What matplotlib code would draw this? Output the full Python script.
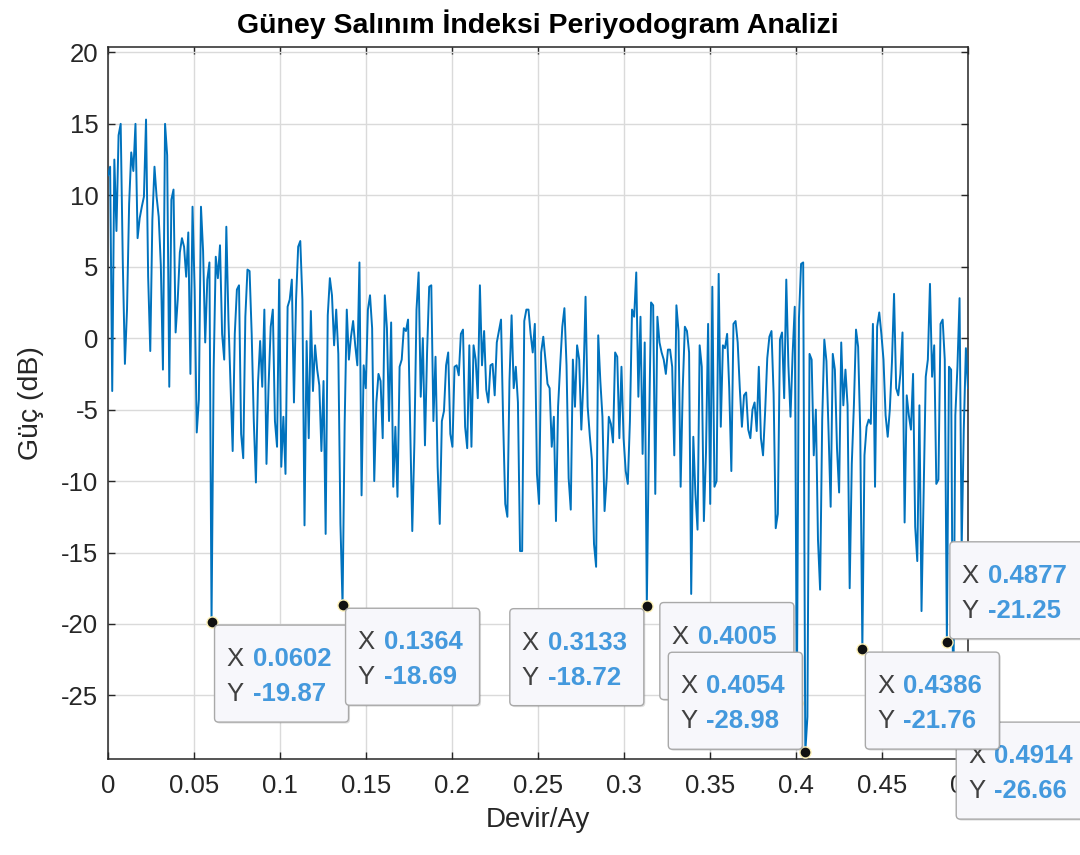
import numpy as np
import matplotlib
matplotlib.use('Agg')
import matplotlib.pyplot as plt
from matplotlib.patches import FancyBboxPatch
from matplotlib.transforms import IdentityTransform

plt.rcParams['font.family'] = ['Liberation Sans', 'DejaVu Sans']
plt.rcParams['axes.unicode_minus'] = False

# Periodogram of the monthly SOI series (814 months), power in dB
n_months = 814
power_db = [
    11.4, 12.0, -3.7, 12.5, 7.5, 14.2, 15.0, 5.3, -1.8, 2.0,
    9.4, 13.0, 11.7, 15.0, 7.0, 8.4, 9.2, 9.9, 15.3, 4.3,
    -0.9, 8.3, 12.0, 9.9, 8.5, 5.1, -2.2, 15.0, 12.8, -3.4,
    9.7, 10.4, 0.4, 2.7, 6.0, 7.0, 6.4, 4.3, 7.4, -2.5,
    9.2, 3.4, -6.6, -4.3, 9.2, 6.1, -0.3, 4.1, 5.3, -19.87,
    -2.2, 5.7, 4.2, 6.5, 0.3, -1.5, 7.8, 1.3, -3.4, -7.9,
    0.3, 3.4, 3.7, -6.7, -8.4, 1.5, 4.8, 4.7, 0.3, -5.8,
    -10.1, -3.1, -0.2, -3.4, 2.0, -8.8, -3.3, 0.8, 2.0, -5.8,
    -7.6, 4.1, -9.0, -5.5, -9.5, 2.2, 2.7, 4.1, -4.5, 2.7,
    6.4, 6.8, 2.7, -13.1, -0.2, -7.0, 1.9, -3.7, -0.5, -2.2,
    -3.3, -7.9, -3.0, -13.7, 1.6, 4.2, 3.0, -0.5, 2.0, -1.1,
    -13.0, -18.69, -6.0, 2.0, -1.5, 0.1, 1.2, -0.5, -1.9, 5.3,
    -11.0, -1.9, -3.5, 2.0, 3.0, 0.7, -10.0, -4.5, -2.5, -3.0,
    -7.0, 3.0, 0.7, -5.8, 1.1, -10.4, -6.2, -11.1, -2.0, -1.5,
    0.7, 0.5, 1.3, -6.2, -13.5, -7.3, 2.0, 4.6, -4.1, 0.0,
    -7.5, -1.0, 3.6, 3.7, -5.8, -1.3, -9.0, -13.0, -5.8, -5.1,
    -1.9, -1.0, -6.7, -7.6, -2.0, -1.9, -2.6, 0.3, 0.6, -6.2,
    -7.7, -0.5, -7.6, -0.5, -1.5, -4.2, 3.7, -1.9, 0.5, -3.6,
    -4.5, -1.9, -1.8, -4.0, -0.3, 0.5, 1.3, -5.8, -11.6, -12.5,
    -3.0, 1.6, -3.5, -2.0, -4.5, -14.9, -14.9, 1.2, 2.0, 2.0,
    0.3, -1.0, 1.0, -9.5, -11.6, -1.0, 0.1, -1.5, -3.2, -3.5,
    -7.6, -5.5, -12.8, -4.8, -1.9, 0.8, 2.1, -1.9, -9.8, -12.0,
    -1.5, -4.8, -0.5, -1.5, -6.4, -3.0, 2.9, -4.8, -6.8, -8.5,
    -14.4, -16.0, 0.2, -3.0, -5.5, -12.1, -9.8, -5.5, -6.0, -7.3,
    -1.0, -1.3, -7.0, -2.0, -7.0, -9.3, -10.2, -5.8, 2.0, 1.5,
    4.6, -4.1, 1.5, -8.1, -0.3, -18.72, -7.0, 2.5, 2.3, -10.9,
    1.5, -0.3, -1.0, -1.5, -2.5, -0.8, -0.8, -2.0, -8.2, 2.3,
    0.5, -10.4, -3.5, 0.8, 0.5, -1.0, -17.9, -6.9, -10.9, -13.4,
    -0.5, -2.0, -12.8, -8.0, 1.0, -11.6, 3.6, -10.4, -10.0, 4.5,
    -6.2, -0.5, -0.7, 0.3, -3.5, -9.3, 1.0, 1.2, -0.3, -3.5,
    -6.2, -4.0, -3.8, -6.4, -7.0, -5.0, -4.5, -6.5, -2.0, -7.0,
    -8.2, -5.1, -1.4, 0.1, 0.5, -3.9, -13.3, -12.3, -0.1, 0.4,
    -4.2, 4.1, -1.9, -5.5, -1.1, 2.2, -25.5, 1.4, 5.2, 5.3,
    -28.98, -26.5, -1.1, -1.5, -8.2, -5.0, -14.1, -17.6, -5.7, -0.1,
    -1.6, -6.5, -11.8, -1.1, -2.2, -7.7, -10.8, -0.3, -4.7, -2.2,
    -4.7, -17.5, -8.8, -4.7, 0.6, -0.6, -6.5, -21.76, -8.2, -6.2,
    -5.7, -6.0, 1.0, -10.4, 0.8, 1.8, 0.3, -1.5, -5.4, -6.9,
    -5.0, -1.7, 3.1, -3.5, -4.0, -2.5, 0.4, -12.9, -4.0, -5.4,
    -6.4, -2.5, -13.2, -15.6, -4.7, -19.1, -10.9, -2.7, -1.5, 3.8,
    -2.7, -0.5, -10.2, -9.9, 1.0, 1.3, -1.5, -21.25, -2.0, -2.2,
    -26.66, -5.4, -2.0, 2.8, -14.7, -6.4, -0.7, -3.5,
]
freq = np.arange(len(power_db)) / n_months

x_ticks = [0, 0.05, 0.1, 0.15, 0.2, 0.25, 0.3, 0.35, 0.4, 0.45, 0.5]
x_tick_labels = ['0', '0.05', '0.1', '0.15', '0.2', '0.25', '0.3', '0.35', '0.4', '0.45', '0.5']
y_ticks = [-25, -20, -15, -10, -5, 0, 5, 10, 15, 20]

# data tips: bin index and which side of the point the box sits (x dir, y dir)
tip_bins = [49, 111, 255, 326, 330, 400, 397, 357]
tip_sides = [(1, -1), (1, -1), (-1, -1), (-1, 1), (-1, 1), (1, -1), (1, 1), (1, -1)]

line_color = '#0072BD'
axis_color = '#262626'

fig = plt.figure(figsize=(10.8, 8.55), dpi=100)
ax = fig.add_axes([0.1, 0.1123, 0.7963, 0.8331])

ax.plot(freq, power_db, color=line_color, lw=1.4, zorder=3)

ax.set_xlim(0, 0.5)
ax.set_ylim(-29.45, 20.4)
ax.set_xticks(x_ticks)
ax.set_xticklabels(x_tick_labels)
ax.set_yticks(y_ticks)
ax.grid(True, color='#DADADA', lw=1.0)
ax.set_axisbelow(True)

for s in ax.spines.values():
    s.set_color(axis_color)
    s.set_linewidth(1.1)
ax.tick_params(direction='in', length=5, width=1.0, colors=axis_color,
               top=True, right=True, labelsize=18.5)
ax.tick_params(axis='x', pad=11)
ax.tick_params(axis='y', pad=7)

ax.set_xlabel('Devir/Ay', fontsize=20, color=axis_color, labelpad=6)
ax.set_ylabel('Güç (dB)', fontsize=20.5, color=axis_color, labelpad=12)
ax.set_title('Güney Salınım İndeksi Periyodogram Analizi', fontsize=20.5,
             fontweight='bold', color='black', pad=10)

# data tip boxes, laid out in pixels around each marked point
box_w, box_h, gap = 134, 97, 3
ident = IdentityTransform()
for i, (b, (sx, sy)) in enumerate(zip(tip_bins, tip_sides)):
    fx, py = freq[b], power_db[b]
    z = 10 + i
    ax.plot(fx, py, 'o', ms=8, mfc='#111111', mec='#FFF3B8', mew=1.0,
            zorder=z, clip_on=False)
    mx, my = ax.transData.transform((fx, py))
    left = mx + gap if sx > 0 else mx - gap - box_w
    bottom = my + gap if sy > 0 else my - gap - box_h
    shadow = FancyBboxPatch((left + 1.5, bottom - 1.5), box_w, box_h,
                            boxstyle='round,pad=0,rounding_size=4',
                            fc='#00000020', ec='none', transform=ident,
                            zorder=z + 0.1, clip_on=False)
    box = FancyBboxPatch((left, bottom), box_w, box_h,
                         boxstyle='round,pad=0,rounding_size=4',
                         fc='#F7F7FB', ec='#A9A9A9', lw=1.0, transform=ident,
                         zorder=z + 0.2, clip_on=False)
    ax.add_patch(shadow)
    ax.add_patch(box)
    top = bottom + box_h
    rows = [('X', f'{fx:.4f}', top - 34), ('Y', f'{py:.2f}', top - 69)]
    for lab, val, ty in rows:
        ax.text(left + 12, ty, lab, transform=ident, fontsize=18.5,
                color='#404040', va='center', ha='left', zorder=z + 0.3,
                clip_on=False)
        ax.text(left + 38, ty, val, transform=ident, fontsize=18.5,
                color='#4499DD', fontweight='bold', va='center', ha='left',
                zorder=z + 0.3, clip_on=False)

fig.savefig('out.png', dpi=100)
